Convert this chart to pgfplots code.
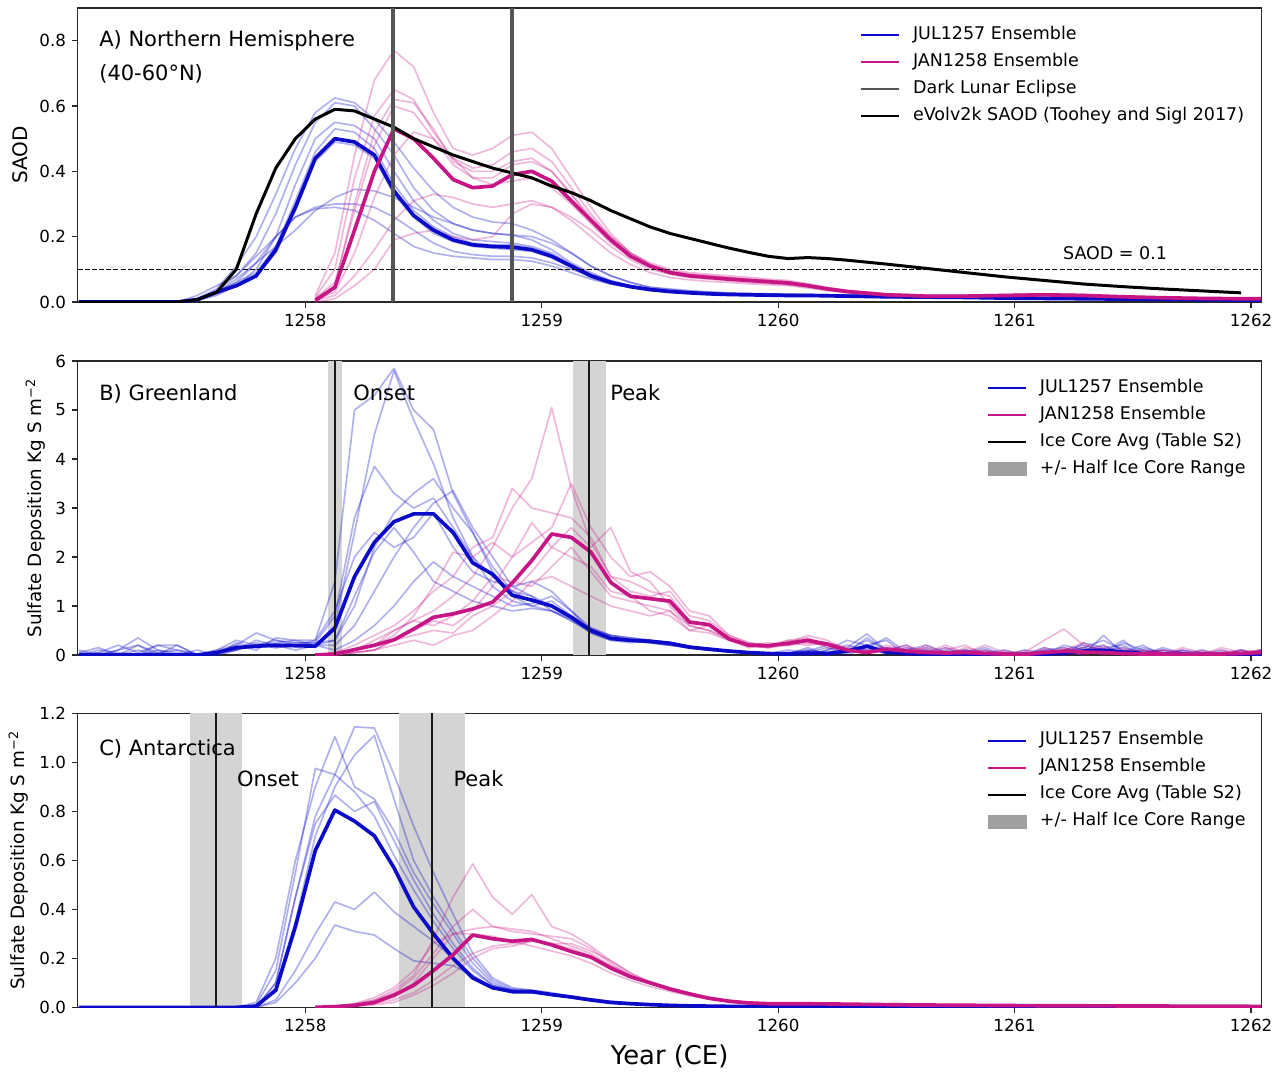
\documentclass[border=0pt]{standalone}
\usepackage{fontspec}
\setmainfont{DejaVu Sans}
\usepackage{pgfplots}
\usepackage{pgfplotstable}
\pgfplotsset{compat=1.18}
\definecolor{julc}{RGB}{10,10,200}
\definecolor{janc}{RGB}{199,21,133}
\definecolor{eclc}{RGB}{85,85,85}
\definecolor{bandc}{RGB}{212,212,212}
\definecolor{legpatch}{RGB}{160,160,160}
\definecolor{spine}{RGB}{40,40,40}

% Panel A: SAOD 40-60N
\pgfplotstableread{
t bm b1 b2 b3 b4 b5 b6 b7 b8 pm p1 p2 p3 p4 p5 p6 p7 ev
1257.042 0 0 0 0 0 0 0 0 0 nan nan nan nan nan nan nan nan 0
1257.458 0 0 0 0 0 0 0 0 0 nan nan nan nan nan nan nan nan 0
1257.542 0.007 0.01 0.01 0.005 0.008 0.006 0.01 0.02 0.008 nan nan nan nan nan nan nan nan 0.007
1257.625 0.03 0.04 0.035 0.02 0.03 0.025 0.03 0.05 0.03 nan nan nan nan nan nan nan nan 0.03
1257.708 0.05 0.11 0.08 0.05 0.06 0.05 0.07 0.08 0.06 nan nan nan nan nan nan nan nan 0.10
1257.792 0.08 0.20 0.15 0.10 0.09 0.08 0.12 0.14 0.12 nan nan nan nan nan nan nan nan 0.27
1257.875 0.16 0.33 0.27 0.20 0.17 0.15 0.17 0.20 0.20 nan nan nan nan nan nan nan nan 0.41
1257.958 0.29 0.47 0.42 0.36 0.31 0.28 0.22 0.26 0.26 nan nan nan nan nan nan nan nan 0.50
1258.042 0.44 0.58 0.55 0.50 0.46 0.43 0.28 0.29 0.285 0.005 0.02 0.015 0.01 0.012 0.008 0.005 0 0.56
1258.125 0.50 0.625 0.61 0.55 0.53 0.49 0.32 0.30 0.29 0.045 0.15 0.10 0.05 0.06 0.03 0.02 0.01 0.59
1258.208 0.49 0.61 0.60 0.54 0.52 0.48 0.345 0.30 0.28 0.22 0.45 0.38 0.30 0.28 0.15 0.08 0.05 0.585
1258.292 0.45 0.56 0.53 0.50 0.47 0.44 0.34 0.29 0.25 0.40 0.68 0.57 0.52 0.48 0.32 0.16 0.10 0.56
1258.375 0.34 0.49 0.45 0.40 0.36 0.33 0.32 0.26 0.21 0.53 0.77 0.65 0.62 0.60 0.45 0.25 0.19 0.535
1258.458 0.265 0.41 0.35 0.31 0.28 0.26 0.29 0.22 0.17 0.50 0.72 0.62 0.61 0.58 0.52 0.31 0.21 0.50
1258.542 0.22 0.34 0.28 0.25 0.23 0.21 0.26 0.18 0.15 0.44 0.58 0.52 0.53 0.50 0.50 0.33 0.22 0.475
1258.625 0.19 0.29 0.24 0.21 0.20 0.185 0.24 0.155 0.14 0.375 0.47 0.44 0.43 0.42 0.44 0.32 0.20 0.45
1258.708 0.175 0.26 0.22 0.19 0.18 0.17 0.22 0.145 0.135 0.35 0.45 0.41 0.40 0.38 0.38 0.30 0.19 0.43
1258.792 0.17 0.245 0.21 0.185 0.175 0.165 0.21 0.14 0.13 0.355 0.47 0.42 0.40 0.38 0.36 0.29 0.20 0.41
1258.875 0.168 0.24 0.205 0.18 0.175 0.16 0.205 0.14 0.13 0.39 0.51 0.46 0.43 0.42 0.37 0.30 0.27 0.395
1258.958 0.16 0.22 0.19 0.17 0.165 0.155 0.20 0.135 0.125 0.40 0.52 0.47 0.44 0.43 0.38 0.31 0.30 0.38
1259.042 0.14 0.19 0.16 0.15 0.145 0.135 0.18 0.12 0.11 0.37 0.47 0.43 0.40 0.40 0.35 0.29 0.29 0.355
1259.125 0.11 0.15 0.12 0.115 0.11 0.105 0.15 0.10 0.09 0.31 0.38 0.35 0.33 0.33 0.30 0.25 0.26 0.335
1259.208 0.08 0.11 0.09 0.085 0.08 0.075 0.11 0.08 0.07 0.25 0.29 0.27 0.25 0.26 0.24 0.20 0.22 0.31
1259.292 0.06 0.08 0.065 0.065 0.06 0.055 0.08 0.06 0.055 0.19 0.21 0.20 0.19 0.20 0.18 0.15 0.17 0.28
1259.375 0.047 0.06 0.05 0.05 0.048 0.045 0.06 0.05 0.045 0.14 0.15 0.15 0.14 0.15 0.14 0.115 0.13 0.255
1259.458 0.038 0.045 0.04 0.04 0.038 0.036 0.045 0.04 0.037 0.11 0.12 0.115 0.11 0.115 0.11 0.09 0.10 0.23
1259.542 0.032 0.04 0.034 0.034 0.032 0.03 0.038 0.034 0.031 0.09 0.10 0.095 0.09 0.095 0.09 0.075 0.085 0.21
1259.625 0.028 0.035 0.03 0.03 0.028 0.027 0.033 0.03 0.028 0.08 0.09 0.085 0.08 0.085 0.08 0.068 0.075 0.195
1259.708 0.025 0.031 0.027 0.027 0.025 0.024 0.03 0.027 0.025 0.075 0.085 0.08 0.075 0.08 0.075 0.063 0.07 0.18
1259.792 0.023 0.028 0.025 0.025 0.023 0.022 0.027 0.025 0.023 0.07 0.08 0.075 0.07 0.075 0.07 0.06 0.065 0.165
1259.875 0.022 0.026 0.024 0.024 0.022 0.021 0.026 0.024 0.022 0.066 0.076 0.07 0.066 0.07 0.066 0.056 0.06 0.152
1259.958 0.021 0.025 0.023 0.023 0.021 0.02 0.025 0.023 0.021 0.062 0.07 0.066 0.062 0.066 0.062 0.053 0.057 0.14
1260.042 0.02 0.024 0.022 0.022 0.02 0.019 0.024 0.022 0.02 0.058 0.066 0.062 0.058 0.062 0.058 0.05 0.053 0.133
1260.125 0.02 0.023 0.021 0.021 0.02 0.019 0.023 0.021 0.02 0.05 0.056 0.053 0.05 0.053 0.05 0.043 0.046 0.136
1260.208 0.019 0.022 0.02 0.02 0.019 0.018 0.022 0.02 0.019 0.04 0.045 0.043 0.04 0.043 0.04 0.035 0.037 0.133
1260.292 0.018 0.021 0.019 0.019 0.018 0.017 0.021 0.019 0.018 0.032 0.036 0.034 0.032 0.034 0.032 0.028 0.03 0.128
1260.458 0.016 0.019 0.017 0.017 0.016 0.015 0.019 0.017 0.016 0.022 0.025 0.024 0.022 0.024 0.022 0.02 0.021 0.116
1260.625 0.015 0.018 0.016 0.016 0.015 0.014 0.018 0.016 0.015 0.018 0.021 0.02 0.018 0.02 0.018 0.016 0.017 0.103
1260.792 0.014 0.016 0.015 0.015 0.014 0.013 0.016 0.015 0.014 0.018 0.021 0.02 0.018 0.02 0.018 0.016 0.017 0.09
1260.958 0.012 0.014 0.013 0.013 0.012 0.011 0.014 0.013 0.012 0.02 0.023 0.022 0.02 0.022 0.02 0.018 0.019 0.077
1261.125 0.011 0.013 0.012 0.012 0.011 0.01 0.013 0.012 0.011 0.022 0.025 0.024 0.022 0.024 0.022 0.02 0.021 0.066
1261.292 0.01 0.012 0.011 0.011 0.01 0.009 0.012 0.011 0.01 0.02 0.023 0.022 0.02 0.022 0.02 0.018 0.019 0.055
1261.458 0.009 0.011 0.01 0.01 0.009 0.008 0.011 0.01 0.009 0.016 0.018 0.017 0.016 0.017 0.016 0.014 0.015 0.047
1261.625 0.008 0.01 0.009 0.009 0.008 0.007 0.01 0.009 0.008 0.013 0.015 0.014 0.013 0.014 0.013 0.012 0.012 0.04
1261.792 0.007 0.009 0.008 0.008 0.007 0.006 0.009 0.008 0.007 0.011 0.013 0.012 0.011 0.012 0.011 0.01 0.01 0.034
1261.958 0.006 0.008 0.007 0.007 0.006 0.005 0.008 0.007 0.006 0.01 0.012 0.011 0.01 0.011 0.01 0.009 0.009 0.028
1262.042 0.006 0.008 0.007 0.007 0.006 0.005 0.008 0.007 0.006 0.01 0.012 0.011 0.01 0.011 0.01 0.009 0.009 nan
}\dataA

% Panel B: Greenland deposition (units of 1e-6)
\pgfplotstableread{
t bm b1 b2 b3 b4 b5 b6 b7 b8 pm p1 p2 p3 p4 p5 p6 p7
1257.042 0 0.05 0 0.1 0 0.02 0 0 0.05 nan nan nan nan nan nan nan nan
1257.125 0 0.15 0.05 0 0.1 0 0.05 0 0 nan nan nan nan nan nan nan nan
1257.208 0 0 0.2 0.1 0.05 0 0 0.1 0 nan nan nan nan nan nan nan nan
1257.292 0 0.2 0.05 0.35 0 0.1 0 0.2 0 nan nan nan nan nan nan nan nan
1257.375 0 0.05 0.2 0.1 0.2 0 0.1 0 0.05 nan nan nan nan nan nan nan nan
1257.458 0 0 0.2 0.05 0.1 0.2 0 0 0.1 nan nan nan nan nan nan nan nan
1257.542 0 0 0 0 0.02 0 0.1 0 0 nan nan nan nan nan nan nan nan
1257.625 0.05 0.1 0.05 0 0.05 0 0 0.1 0.05 nan nan nan nan nan nan nan nan
1257.708 0.15 0.3 0.2 0.1 0.15 0.25 0.1 0.2 0.1 nan nan nan nan nan nan nan nan
1257.792 0.18 0.2 0.45 0.2 0.2 0.15 0.3 0.1 0.25 nan nan nan nan nan nan nan nan
1257.875 0.2 0.25 0.3 0.3 0.15 0.2 0.2 0.35 0.15 nan nan nan nan nan nan nan nan
1257.958 0.19 0.3 0.2 0.25 0.2 0.1 0.25 0.3 0.2 nan nan nan nan nan nan nan nan
1258.042 0.18 0.3 0.2 0.25 0.2 0.2 0.25 0.2 0.3 0 0 0 0 0 0 0 0
1258.125 0.55 1.5 0.6 0.8 0.3 0.2 0.3 0.1 0.9 0.02 0.05 0.05 0.02 0 0 0.03 0
1258.208 1.6 5.0 2.5 2.8 1.0 0.6 1.2 0.3 2.0 0.11 0.1 0.2 0.1 0.05 0.05 0.1 0.05
1258.292 2.3 5.3 4.5 3.85 2.2 1.3 2.1 0.6 2.5 0.20 0.3 0.4 0.2 0.1 0.1 0.2 0.1
1258.375 2.72 5.85 5.8 3.3 2.9 2.0 2.6 1.0 2.2 0.31 0.5 0.6 0.4 0.3 0.3 0.5 0.2
1258.458 2.88 5.0 4.8 3.0 3.3 2.6 2.1 1.5 2.4 0.53 0.7 0.9 0.8 0.5 0.4 0.7 0.3
1258.542 2.88 4.6 3.9 3.2 3.6 3.1 1.5 1.9 2.9 0.77 0.9 1.3 1.4 0.7 0.5 0.6 0.2
1258.625 2.5 3.3 2.8 2.6 3.0 3.35 1.3 1.6 2.2 0.84 1.2 1.6 2.1 0.6 0.45 0.8 0.4
1258.708 1.88 2.5 2.0 2.0 2.5 2.6 1.1 1.4 1.7 0.94 1.6 2.2 2.0 0.9 0.8 1.1 0.5
1258.792 1.65 1.8 1.6 1.4 1.7 2.0 1.0 1.2 1.5 1.08 2.2 2.4 2.3 1.4 1.0 1.6 0.8
1258.875 1.22 1.3 1.3 1.1 1.2 1.4 0.9 1.0 1.4 1.47 3.0 3.4 2.0 2.0 1.3 1.5 1.1
1258.958 1.12 1.2 1.1 1.0 1.0 1.2 0.95 1.05 1.5 1.93 3.6 3.0 2.3 2.7 1.7 1.4 1.5
1259.042 1.0 0.9 1.0 0.9 1.1 1.0 0.9 1.2 1.3 2.47 5.05 2.9 2.6 2.2 2.2 1.8 1.6
1259.125 0.77 0.7 0.8 0.75 0.8 0.75 0.7 0.9 0.9 2.4 3.4 2.8 3.5 2.6 2.0 2.2 1.4
1259.208 0.5 0.5 0.5 0.55 0.5 0.45 0.45 0.5 0.55 2.1 2.3 2.4 2.6 2.2 1.8 1.7 1.2
1259.292 0.34 0.4 0.35 0.4 0.35 0.3 0.3 0.35 0.4 1.48 1.6 1.6 2.0 2.6 1.3 1.2 1.0
1259.375 0.3 0.3 0.3 0.35 0.3 0.28 0.25 0.3 0.35 1.2 1.3 1.5 1.6 1.7 1.2 1.1 0.9
1259.458 0.28 0.25 0.3 0.3 0.27 0.25 0.28 0.25 0.3 1.15 1.2 1.3 1.7 1.5 0.9 1.0 0.8
1259.542 0.24 0.2 0.25 0.25 0.22 0.2 0.25 0.2 0.25 1.1 1.3 1.2 1.4 1.0 0.8 0.9 0.9
1259.625 0.16 0.15 0.15 0.18 0.15 0.14 0.17 0.15 0.18 0.67 0.8 0.7 0.9 0.6 0.5 0.6 0.5
1259.708 0.12 0.1 0.1 0.12 0.1 0.1 0.12 0.1 0.12 0.62 0.7 0.6 0.8 0.5 0.6 0.5 0.45
1259.792 0.08 0.08 0.07 0.09 0.07 0.06 0.08 0.07 0.08 0.33 0.4 0.35 0.4 0.3 0.3 0.35 0.3
1259.875 0.05 0.06 0.05 0.06 0.05 0.04 0.05 0.05 0.06 0.2 0.25 0.2 0.25 0.2 0.15 0.2 0.2
1259.958 0.03 0.04 0.03 0.04 0.03 0.03 0.03 0.03 0.04 0.19 0.2 0.25 0.2 0.15 0.2 0.15 0.15
1260.042 0.02 0.03 0.0 0.05 0.02 0.1 0.0 0.03 0.05 0.24 0.3 0.2 0.25 0.3 0.2 0.25 0.2
1260.125 0.04 0.1 0.05 0.0 0.15 0.05 0.08 0.0 0.1 0.3 0.35 0.3 0.4 0.25 0.3 0.2 0.25
1260.208 0.03 0.05 0.15 0.1 0.0 0.05 0.2 0.1 0.0 0.22 0.2 0.25 0.3 0.2 0.15 0.25 0.2
1260.292 0.08 0.15 0.05 0.2 0.1 0.0 0.1 0.3 0.05 0.1 0.1 0.15 0.1 0.05 0.1 0.1 0.1
1260.375 0.18 0.43 0.2 0.1 0.3 0.15 0.05 0.2 0.35 0.05 0.05 0.1 0.05 0.1 0.05 0.08 0.05
1260.458 0.06 0.1 0.3 0.05 0.1 0.35 0.15 0.0 0.1 0.12 0.1 0.15 0.2 0.1 0.08 0.12 0.1
1260.542 0.03 0.05 0.0 0.1 0.2 0.05 0.1 0.15 0.0 0.08 0.15 0.05 0.1 0.2 0.05 0.1 0.0
1260.625 0.02 0.0 0.1 0.05 0.0 0.1 0.2 0.0 0.15 0.05 0.1 0.0 0.15 0.05 0.1 0.0 0.2
1260.708 0.01 0.05 0.0 0.15 0.05 0.0 0.05 0.1 0.0 0.04 0.0 0.1 0.05 0.2 0.0 0.15 0.05
1260.792 0.01 0.1 0.05 0.0 0.1 0.05 0.0 0.05 0.1 0.05 0.05 0.2 0.0 0.05 0.15 0.05 0.1
1260.875 0.0 0.0 0.1 0.05 0.0 0.15 0.05 0.0 0.05 0.03 0.1 0.0 0.1 0.0 0.05 0.2 0.0
1260.958 0.01 0.05 0.0 0.0 0.05 0.0 0.1 0.05 0.0 0.02 0.0 0.05 0.0 0.1 0.0 0.05 0.05
1261.042 0.0 0.0 0.05 0.1 0.0 0.05 0.0 0.0 0.05 0.01 0.05 0.0 0.05 0.0 0.1 0.0 0.0
1261.125 0.02 0.1 0.0 0.05 0.15 0.0 0.05 0.1 0.0 0.05 0.3 0.05 0.0 0.1 0.0 0.15 0.05
1261.208 0.04 0.05 0.2 0.0 0.05 0.1 0.0 0.15 0.05 0.08 0.53 0.1 0.15 0.0 0.1 0.05 0.1
1261.292 0.08 0.15 0.1 0.25 0.0 0.2 0.1 0.05 0.15 0.06 0.2 0.25 0.05 0.1 0.15 0.0 0.05
1261.375 0.1 0.3 0.0 0.15 0.4 0.1 0.2 0.05 0.1 0.05 0.1 0.05 0.2 0.05 0.0 0.1 0.15
1261.458 0.06 0.1 0.25 0.2 0.05 0.15 0.0 0.3 0.05 0.03 0.05 0.1 0.0 0.15 0.1 0.05 0.0
1261.542 0.03 0.05 0.1 0.0 0.2 0.05 0.15 0.0 0.1 0.02 0.0 0.05 0.1 0.0 0.05 0.1 0.05
1261.625 0.02 0.0 0.05 0.1 0.0 0.1 0.05 0.15 0.0 0.02 0.1 0.0 0.05 0.05 0.0 0.05 0.1
1261.708 0.01 0.05 0.0 0.05 0.1 0.0 0.0 0.05 0.1 0.01 0.05 0.15 0.0 0.0 0.1 0.0 0.05
1261.792 0.0 0.0 0.05 0.0 0.0 0.05 0.1 0.0 0.05 0.01 0.0 0.05 0.1 0.05 0.0 0.05 0.0
1261.875 0.0 0.05 0.0 0.1 0.05 0.0 0.0 0.05 0.0 0.02 0.05 0.0 0.0 0.1 0.05 0.0 0.15
1261.958 0.0 0.0 0.1 0.0 0.0 0.1 0.05 0.0 0.05 0.03 0.1 0.05 0.05 0.0 0.0 0.1 0.05
1262.042 0.02 0.05 0.0 0.05 0.1 0.0 0.0 0.1 0.0 0.05 0.05 0.1 0.0 0.05 0.1 0.0 0.1
}\dataB

% Panel C: Antarctica deposition (units of 1e-5)
\pgfplotstableread{
t bm b1 b2 b3 b4 b5 b6 b7 pm p1 p2 p3 p4 p5 p6
1257.042 0 0 0 0 0 0 0 0 nan nan nan nan nan nan nan
1257.708 0 0 0 0 0 0 0 0 nan nan nan nan nan nan nan
1257.792 0.005 0 0.02 0 0.01 0 0 0 nan nan nan nan nan nan nan
1257.875 0.07 0.10 0.20 0.08 0.15 0.10 0.03 0.02 nan nan nan nan nan nan nan
1257.958 0.33 0.45 0.60 0.35 0.55 0.45 0.15 0.10 nan nan nan nan nan nan nan
1258.042 0.64 0.78 0.90 0.70 0.975 0.75 0.30 0.20 0 0 0 0 0 0 0
1258.125 0.805 0.95 1.105 0.90 0.95 0.866 0.43 0.336 0.003 0.005 0.005 0.003 0.002 0.002 0.004
1258.208 0.76 1.145 0.90 1.03 0.88 0.80 0.40 0.31 0.008 0.01 0.015 0.01 0.005 0.005 0.015
1258.292 0.70 1.14 0.85 1.11 0.78 0.84 0.47 0.295 0.02 0.03 0.03 0.02 0.015 0.01 0.04
1258.375 0.57 0.95 0.72 0.85 0.62 0.68 0.39 0.24 0.05 0.07 0.06 0.04 0.03 0.02 0.08
1258.458 0.41 0.74 0.55 0.60 0.48 0.52 0.33 0.19 0.09 0.13 0.12 0.10 0.06 0.05 0.15
1258.542 0.30 0.55 0.42 0.45 0.35 0.38 0.27 0.18 0.15 0.28 0.22 0.20 0.11 0.09 0.26
1258.625 0.20 0.38 0.30 0.32 0.24 0.26 0.20 0.17 0.215 0.45 0.33 0.30 0.17 0.14 0.30
1258.708 0.12 0.22 0.18 0.20 0.15 0.16 0.13 0.13 0.295 0.585 0.40 0.32 0.22 0.20 0.30
1258.792 0.08 0.12 0.10 0.11 0.09 0.09 0.08 0.08 0.28 0.45 0.33 0.33 0.25 0.24 0.29
1258.875 0.064 0.08 0.07 0.075 0.07 0.07 0.065 0.065 0.27 0.38 0.32 0.31 0.26 0.25 0.27
1258.958 0.064 0.07 0.068 0.07 0.065 0.065 0.06 0.06 0.277 0.46 0.31 0.30 0.27 0.27 0.25
1259.042 0.052 0.06 0.055 0.055 0.05 0.05 0.05 0.05 0.255 0.33 0.28 0.29 0.26 0.26 0.23
1259.125 0.042 0.045 0.045 0.045 0.04 0.04 0.04 0.04 0.228 0.30 0.25 0.28 0.24 0.26 0.21
1259.208 0.03 0.03 0.035 0.033 0.03 0.03 0.03 0.03 0.205 0.25 0.22 0.24 0.21 0.23 0.18
1259.292 0.02 0.02 0.025 0.023 0.02 0.02 0.02 0.02 0.16 0.19 0.17 0.18 0.17 0.19 0.14
1259.375 0.015 0.015 0.018 0.017 0.015 0.015 0.015 0.015 0.125 0.14 0.13 0.13 0.13 0.14 0.11
1259.458 0.011 0.01 0.013 0.012 0.011 0.011 0.011 0.011 0.10 0.10 0.10 0.10 0.10 0.105 0.085
1259.542 0.008 0.008 0.01 0.009 0.008 0.008 0.008 0.008 0.075 0.07 0.075 0.075 0.075 0.08 0.065
1259.625 0.006 0.006 0.008 0.007 0.006 0.006 0.006 0.006 0.055 0.05 0.055 0.055 0.055 0.058 0.048
1259.708 0.005 0.005 0.006 0.006 0.005 0.005 0.005 0.005 0.037 0.035 0.04 0.038 0.037 0.04 0.033
1259.792 0.004 0.004 0.005 0.005 0.004 0.004 0.004 0.004 0.025 0.025 0.028 0.026 0.025 0.027 0.023
1259.875 0.004 0.004 0.004 0.004 0.004 0.004 0.004 0.004 0.018 0.018 0.02 0.019 0.018 0.02 0.017
1259.958 0.003 0.003 0.004 0.003 0.003 0.003 0.003 0.003 0.015 0.015 0.016 0.015 0.015 0.016 0.014
1260.042 0.003 0.003 0.003 0.003 0.003 0.003 0.003 0.003 0.015 0.014 0.015 0.014 0.014 0.015 0.013
1260.208 0.003 0.003 0.003 0.003 0.003 0.003 0.003 0.003 0.014 0.013 0.014 0.013 0.013 0.014 0.012
1260.375 0.002 0.002 0.002 0.002 0.002 0.002 0.002 0.002 0.012 0.012 0.012 0.012 0.012 0.012 0.011
1260.542 0.002 0.002 0.002 0.002 0.002 0.002 0.002 0.002 0.01 0.01 0.01 0.01 0.01 0.01 0.01
1260.708 0.002 0.002 0.002 0.002 0.002 0.002 0.002 0.002 0.009 0.009 0.009 0.009 0.009 0.009 0.009
1260.875 0.001 0.001 0.001 0.001 0.001 0.001 0.001 0.001 0.008 0.008 0.008 0.008 0.008 0.008 0.008
1261.042 0.001 0.001 0.001 0.001 0.001 0.001 0.001 0.001 0.007 0.007 0.007 0.007 0.007 0.007 0.007
1261.375 0.001 0.001 0.001 0.001 0.001 0.001 0.001 0.001 0.006 0.006 0.006 0.006 0.006 0.006 0.006
1261.708 0.001 0.001 0.001 0.001 0.001 0.001 0.001 0.001 0.005 0.005 0.005 0.005 0.005 0.005 0.005
1262.042 0 0 0 0 0 0 0 0 0.004 0.004 0.004 0.004 0.004 0.004 0.004
}\dataC

\tikzset{lab/.style={anchor=base west, inner sep=0pt, font=\fontsize{12.6}{15}\selectfont}}
\pgfplotsset{
  panel/.style={
    scale only axis, width=710.4pt, height=176.4pt,
    xmin=1257.037, xmax=1262.045, ymin=0,
    xtick={1258,1259,1260,1261,1262},
    tick pos=left, tick align=outside, major tick length=3.5pt,
    tick style={spine, line width=0.8pt},
    axis line style={spine, line width=0.8pt},
    tick label style={font=\fontsize{10}{12}\selectfont},
    /pgf/number format/1000 sep={},
    /pgf/number format/assume math mode=true,
    legend cell align=left,
    legend style={draw=none, fill=none, inner sep=0pt, outer sep=0pt,
      row sep=6.2pt, anchor=north west,
      font=\fontsize{10.5}{12}\selectfont,
      nodes={inner sep=0pt, text height=7.5pt, text depth=2.5pt},
      /tikz/every odd column/.style={column sep=7.5pt}},
    legend image code/.code={\draw[#1] (0pt,0pt) -- (22.8pt,0pt);},
  },
  thinB/.style={color=julc, draw opacity=0.32, line width=1pt, line join=round, forget plot},
  thinP/.style={color=janc, draw opacity=0.3, line width=1pt, line join=round, forget plot},
  meanB/.style={color=julc, line width=2.2pt, line join=round, forget plot},
  meanP/.style={color=janc, line width=2.2pt, line join=round, forget plot},
}

\begin{document}
\begin{tikzpicture}
% ---------------- Panel A ----------------
\begin{axis}[panel, name=A, at={(0pt,0pt)}, anchor=north west,
  ymax=0.9, ytick={0,0.2,0.4,0.6,0.8},
  yticklabel style={/pgf/number format/fixed, /pgf/number format/fixed zerofill, /pgf/number format/precision=1},
  ylabel={SAOD},
  ylabel style={at={(axis description cs:-0.0483,0.5)}, anchor=center, font=\fontsize{12}{14}\selectfont},
  legend style={at={(axis description cs:0.6608,0.937)}}]
\addlegendimage{julc, line width=1.5pt}\addlegendentry{JUL1257 Ensemble}
\addlegendimage{janc, line width=1.5pt}\addlegendentry{JAN1258 Ensemble}
\addlegendimage{eclc, line width=1.5pt}\addlegendentry{Dark Lunar Eclipse}
\addlegendimage{black, line width=1.5pt}\addlegendentry{eVolv2k SAOD (Toohey and Sigl 2017)}
\pgfplotsinvokeforeach{1,...,8}{\addplot[thinB] table[x=t,y=b#1]{\dataA};}
\pgfplotsinvokeforeach{1,...,7}{\addplot[thinP] table[x=t,y=p#1]{\dataA};}
\addplot[meanB] table[x=t,y=bm]{\dataA};
\addplot[meanP] table[x=t,y=pm]{\dataA};
\addplot[black, line width=1.8pt, line join=round, forget plot] table[x=t,y=ev]{\dataA};
\addplot[black, line width=0.8pt, dash pattern=on 3pt off 1.3pt, forget plot] coordinates {(1257.037,0.1) (1262.045,0.1)};
\addplot[eclc, line width=2.4pt, forget plot] coordinates {(1258.369,0) (1258.369,0.9)};
\addplot[eclc, line width=2.4pt, forget plot] coordinates {(1258.873,0) (1258.873,0.9)};
\node[lab] at (rel axis cs:0.018,0.8675) {A) Northern Hemisphere};
\node[lab] at (rel axis cs:0.018,0.753) {(40-60°N)};
\node[anchor=base west, inner sep=0pt, font=\fontsize{10.5}{12}\selectfont] at (rel axis cs:0.832,0.1437) {SAOD = 0.1};
\end{axis}

% ---------------- Panel B ----------------
\begin{axis}[panel, name=B, at={(0pt,-211.8pt)}, anchor=north west,
  ymax=6, ytick={0,1,2,3,4,5,6},
  ylabel={Sulfate Deposition Kg S m\textsuperscript{−2}},
  ylabel style={at={(axis description cs:-0.0356,0.5)}, anchor=center, font=\fontsize{11}{13}\selectfont},
  legend style={at={(axis description cs:0.768,0.936)}}]
\addlegendimage{julc, line width=1.5pt}\addlegendentry{JUL1257 Ensemble}
\addlegendimage{janc, line width=1.5pt}\addlegendentry{JAN1258 Ensemble}
\addlegendimage{black, line width=1.5pt}\addlegendentry{Ice Core Avg (Table S2)}
\addlegendimage{legend image code/.code={\fill[legpatch] (0pt,-3.9pt) rectangle (22.8pt,3.9pt);}}\addlegendentry{+/- Half Ice Core Range}
\addplot[fill=bandc, draw=none, forget plot] coordinates {(1258.097,6) (1258.153,6)} \closedcycle;
\addplot[fill=bandc, draw=none, forget plot] coordinates {(1259.130,6) (1259.273,6)} \closedcycle;
\pgfplotsinvokeforeach{1,...,8}{\addplot[thinB] table[x=t,y=b#1]{\dataB};}
\pgfplotsinvokeforeach{1,...,7}{\addplot[thinP] table[x=t,y=p#1]{\dataB};}
\addplot[meanB] table[x=t,y=bm]{\dataB};
\addplot[meanP] table[x=t,y=pm]{\dataB};
\addplot[black!90, line width=1.4pt, forget plot] coordinates {(1258.125,0) (1258.125,6)};
\addplot[black!90, line width=1.4pt, forget plot] coordinates {(1259.201,0) (1259.201,6)};
\node[lab] at (rel axis cs:0.018,0.867) {B) Greenland};
\node[lab] at (rel axis cs:0.2325,0.867) {Onset};
\node[lab] at (rel axis cs:0.4496,0.867) {Peak};
\node[anchor=base west, inner sep=0pt, font=\fontsize{10}{12}\selectfont] at (rel axis cs:0.002,1.0136) {1e−6};
\end{axis}

% ---------------- Panel C ----------------
\begin{axis}[panel, name=C, at={(0pt,-423.2pt)}, anchor=north west,
  ymax=1.2, ytick={0,0.2,0.4,0.6,0.8,1.0,1.2},
  yticklabel style={/pgf/number format/fixed, /pgf/number format/fixed zerofill, /pgf/number format/precision=1},
  ylabel={Sulfate Deposition Kg S m\textsuperscript{−2}},
  ylabel style={at={(axis description cs:-0.0500,0.5)}, anchor=center, font=\fontsize{11}{13}\selectfont},
  xlabel={Year (CE)},
  xlabel style={at={(axis description cs:0.5,-0.196)}, anchor=base, font=\fontsize{15.5}{18}\selectfont},
  legend style={at={(axis description cs:0.768,0.935)}}]
\addlegendimage{julc, line width=1.5pt}\addlegendentry{JUL1257 Ensemble}
\addlegendimage{janc, line width=1.5pt}\addlegendentry{JAN1258 Ensemble}
\addlegendimage{black, line width=1.5pt}\addlegendentry{Ice Core Avg (Table S2)}
\addlegendimage{legend image code/.code={\fill[legpatch] (0pt,-3.9pt) rectangle (22.8pt,3.9pt);}}\addlegendentry{+/- Half Ice Core Range}
\addplot[fill=bandc, draw=none, forget plot] coordinates {(1257.511,1.2) (1257.730,1.2)} \closedcycle;
\addplot[fill=bandc, draw=none, forget plot] coordinates {(1258.395,1.2) (1258.677,1.2)} \closedcycle;
\pgfplotsinvokeforeach{1,...,7}{\addplot[thinB] table[x=t,y=b#1]{\dataC};}
\pgfplotsinvokeforeach{1,...,6}{\addplot[thinP] table[x=t,y=p#1]{\dataC};}
\addplot[meanB] table[x=t,y=bm]{\dataC};
\addplot[meanP] table[x=t,y=pm]{\dataC};
\addplot[black!90, line width=1.4pt, forget plot] coordinates {(1257.621,0) (1257.621,1.2)};
\addplot[black!90, line width=1.4pt, forget plot] coordinates {(1258.537,0) (1258.537,1.2)};
\node[lab] at (rel axis cs:0.018,0.858) {C) Antarctica};
\node[lab] at (rel axis cs:0.1343,0.750) {Onset};
\node[lab] at (rel axis cs:0.3172,0.750) {Peak};
\node[anchor=base west, inner sep=0pt, font=\fontsize{10}{12}\selectfont] at (rel axis cs:0.002,1.018) {1e−5};
\end{axis}

\pgfresetboundingbox
\path[use as bounding box] (-46.6pt,4.8pt) rectangle (724.4pt,-638.4pt);
\end{tikzpicture}
\end{document}
